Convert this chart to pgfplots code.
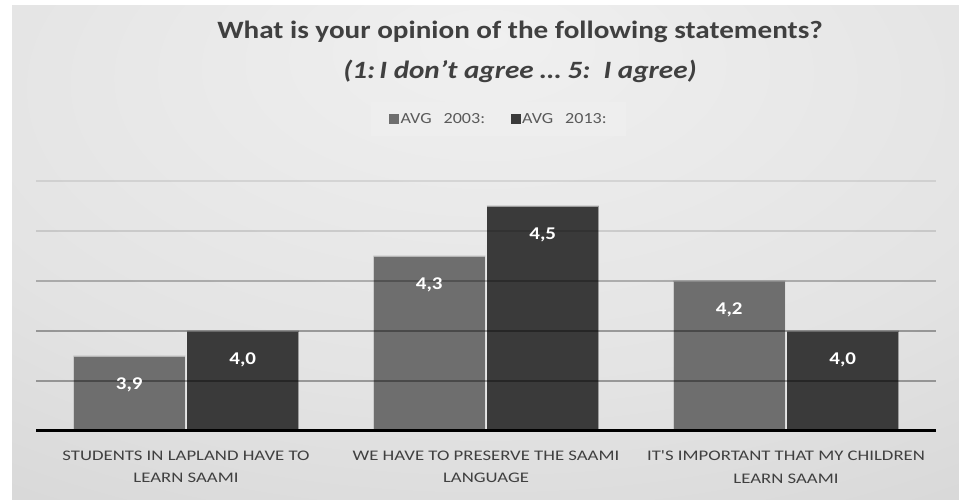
\documentclass[border=0pt]{standalone}
\usepackage{pgfplots}
\pgfplotsset{compat=1.18}
\usepackage{fontspec}
\setmainfont{Carlito}[FakeStretch=1.17]
\newfontfamily\tickfont{Carlito}[FakeStretch=1.28]

\definecolor{bgin}{HTML}{F0F0F0}
\definecolor{bgmid}{HTML}{E3E3E3}
\definecolor{bgout}{HTML}{CECECE}
\definecolor{bgedge}{HTML}{C3C3C3}
\definecolor{legendbg}{HTML}{EEEEEE}
\definecolor{titlegray}{HTML}{404040}
\definecolor{labelgray}{HTML}{404040}
\definecolor{legendgray}{HTML}{595959}
\definecolor{barA}{HTML}{6E6E6E}
\definecolor{barB}{HTML}{3A3A3A}
\definecolor{baseline}{HTML}{444444}

\pgfdeclareradialshading{chartbg}{\pgfpoint{0bp}{22bp}}{%
  color(0bp)=(bgin); color(30bp)=(bgmid); color(60bp)=(bgout); color(100bp)=(bgedge)}

% bar geometry shared by the bars and their value labels
\pgfplotsset{
  bar03/.style={ybar, bar width=112bp, bar shift=-56.75bp},
  bar13/.style={ybar, bar width=112bp, bar shift=56.75bp},
  valuelabel/.style={
    draw=none, fill=none, forget plot,
    nodes near coords={\bfseries\pgfmathprintnumber[fixed, fixed zerofill,
      precision=1, use comma, assume math mode=true]{\pgfplotspointmeta}},
    every node near coord/.append style={
      anchor=north, yshift=-18bp, xshift=#1, text=white,
      font=\fontsize{18}{20}\selectfont}
  }
}

\begin{document}
\begin{tikzpicture}[x=1bp,y=1bp]
\useasboundingbox (0,0) rectangle (959,503);
\fill[white] (0,0) rectangle (959,503);
\shade[shading=chartbg] (12,3) rectangle (959,497);

\node[anchor=base, text=titlegray, font=\fontsize{25}{30}\selectfont\bfseries]
  at (520,464) {What is your opinion of the following statements?};
\node[anchor=base, text=titlegray, font=\fontsize{25}{30}\selectfont\bfseries\itshape]
  at (520,424) {(1:\,I don’t agree … 5:\ \ I agree)};

\begin{axis}[
  at={(36bp,72bp)}, anchor=south west,
  scale only axis, width=900bp, height=250bp,
  xmin=-0.5, xmax=2.5, ymin=3.6, ymax=4.6,
  clip mode=individual,
  axis line style={draw=none},
  ytick=\empty,
  xtick={0,1,2},
  major tick length=0pt,
  xticklabels={{STUDENTS IN LAPLAND HAVE TO\\LEARN SAAMI},
               {WE HAVE TO PRESERVE THE SAAMI\\LANGUAGE},
               {IT'S IMPORTANT THAT MY CHILDREN\\LEARN SAAMI}},
  xticklabel style={align=center, text=labelgray,
    font=\tickfont\fontsize{14.7}{23}\selectfont, yshift=-16bp},
  legend style={at={(0.514,1.248)}, anchor=center, draw=none,
    fill=legendbg, inner xsep=18bp, inner ysep=9bp,
    text=legendgray, font=\fontsize{15.5}{18}\selectfont,
    nodes={inner xsep=1.5bp},
    /tikz/every even column/.append style={column sep=24bp}},
  legend columns=2,
  legend image code/.code={\fill[#1, draw=none] (0bp,-5bp) rectangle (10bp,5bp);},
]
\addplot[bar03, fill=barA, draw=white, draw opacity=0.5, line width=0.6bp]
  coordinates {(0,3.9) (1,4.3) (2,4.2)};
\addlegendentry{AVG\hspace{12bp}2003:}
\addplot[bar13, fill=barB, draw=white, draw opacity=0.5, line width=0.6bp]
  coordinates {(0,4.0) (1,4.5) (2,4.0)};
\addlegendentry{AVG\hspace{12bp}2013:}

% horizontal gridlines, drawn over the bars
\draw[black, opacity=0.33, line width=1.5bp] (axis cs:-0.5,3.8) -- (axis cs:2.5,3.8);
\draw[black, opacity=0.33, line width=1.5bp] (axis cs:-0.5,4.0) -- (axis cs:2.5,4.0);
\draw[black, opacity=0.25, line width=1.5bp] (axis cs:-0.5,4.2) -- (axis cs:2.5,4.2);
\draw[black, opacity=0.12, line width=1.5bp] (axis cs:-0.5,4.4) -- (axis cs:2.5,4.4);
\draw[black, opacity=0.09, line width=1.5bp] (axis cs:-0.5,4.6) -- (axis cs:2.5,4.6);
\draw[baseline, line width=3bp] (axis cs:-0.5,3.6) -- (axis cs:2.5,3.6);

% value labels
\addplot[bar03, valuelabel=-56.75bp] coordinates {(0,3.9) (1,4.3) (2,4.2)};
\addplot[bar13, valuelabel=56.75bp] coordinates {(0,4.0) (1,4.5) (2,4.0)};
\end{axis}
\end{tikzpicture}
\end{document}
